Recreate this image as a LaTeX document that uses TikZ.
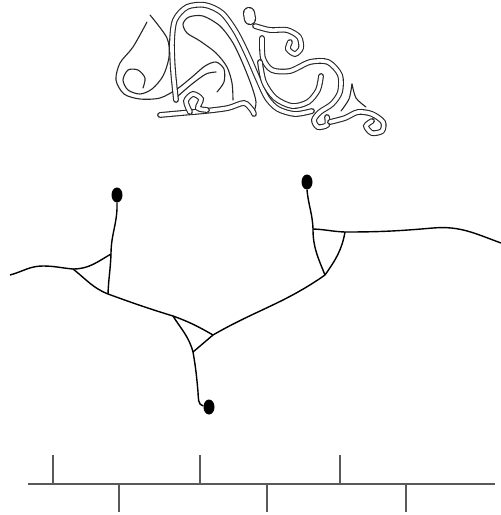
\documentclass[tikz,border=0pt]{standalone}
\usepackage{tikz}
\usetikzlibrary{shapes.geometric}
\tikzset{
    branch-line/.style = {draw=black, line width=1.4pt},
    end-dot/.style = {ellipse, fill=black, inner sep=0pt, minimum width=11pt, minimum height=15pt},
    ribbon/.style = {draw=black!85, line width=1.1pt, double=white, double distance=3.6pt, line cap=round},
    ribbon-edge/.style = {draw=black!85, line width=1.1pt, line cap=round},
    scale-line/.style = {draw=black!65, line width=1.2pt},
}

\begin{document}
\begin{tikzpicture}[x=1pt, y=-1pt]
\useasboundingbox (0,0) rectangle (501,515);

% ornament, left leaf
\draw[ribbon-edge] plot[smooth] coordinates {(147,22) (133,47) (120,63) (116,80) (124,94) (140,99) (160,98) (177,89) (192,77) (205,66) (216,62) (224,69) (224,82) (217,92)};
\draw[ribbon-edge] plot[smooth] coordinates {(143,88) (145,78) (138,70) (128,70) (123,80) (128,90) (140,94) (152,89) (163,76) (169,57) (167,38) (150,15)};
\draw[ribbon-edge] plot[smooth] coordinates {(178,96) (192,84) (206,74) (216,72)};
% big loop and inner drop
\draw[ribbon] plot[smooth] coordinates {(176,100) (173,70) (172,42) (175,20) (187,7) (205,5) (222,13) (236,32) (248,56) (258,79) (267,98) (278,109) (295,114) (312,111)};
\draw[ribbon-edge] plot[smooth] coordinates {(233,100) (232,83) (227,67) (216,53) (200,41) (187,33) (183,24) (189,17) (203,16) (220,26) (233,43) (243,64) (252,87) (256,102) (254,112)};
% bottom band with small curl
\draw[ribbon] plot[smooth] coordinates {(160,115) (182,113) (205,111) (228,108) (244,103) (252,110) (254,114)};
\draw[ribbon] plot[smooth] coordinates {(190,112) (186,101) (193,94) (201,99) (198,108) (207,110)};
% right part
\draw[ribbon] plot[smooth] coordinates {(255,26) (270,30) (287,30) (299,37) (301,48) (295,54) (288,49) (290,42)};
\draw[ribbon, double distance=10pt] (249,13) -- (250,19);
\draw[ribbon] plot[smooth] coordinates {(262,38) (263,58) (272,70) (290,71) (310,62) (328,62) (340,75) (340,92) (332,104) (320,112) (314,120) (318,127) (327,125) (327,117)};
\draw[ribbon] plot[smooth] coordinates {(260,62) (264,82) (275,98) (292,106) (308,102) (318,90) (321,76)};
\draw[ribbon-edge] plot[smooth] coordinates {(352,84) (349,99) (341,111)};
\draw[ribbon-edge] plot[smooth] coordinates {(352,84) (356,98) (366,107)};
\draw[ribbon] plot[smooth] coordinates {(330,122) (345,118) (358,112) (372,114) (383,122) (382,131) (372,133) (366,126) (372,121)};

% branches
\node[end-dot] (left-end) at (117,195) {};
\node[end-dot] (right-end) at (307,182) {};
\node[end-dot] (low-end) at (209,407) {};

\coordinate (far-left) at (10,275);
\coordinate (far-right) at (501,243);
\coordinate (a1) at (111,254);
\coordinate (a2) at (108,294);
\coordinate (a3) at (73,269);
\coordinate (b1) at (173,316);
\coordinate (b2) at (213,335);
\coordinate (b3) at (193,352);
\coordinate (c1) at (313,229);
\coordinate (c2) at (345,232);
\coordinate (c3) at (325,275);

\draw[branch-line] (left-end.south) to[out=-88,in=90] (a1) to[out=-92,in=88] (a2);
\draw[branch-line] (far-left) to[out=15,in=180] (43,266) to[out=0,in=175] (a3);
\draw[branch-line] (a3) to[out=0,in=-150] (a1);
\draw[branch-line] (a3) to[out=-38,in=158] (a2);
\draw[branch-line] (a2) to[out=-20,in=163] (b1);
\draw[branch-line] (b1) to[out=-20,in=150] (b2);
\draw[branch-line] (b1) to[out=-58,in=105] (b3);
\draw[branch-line] (b3) -- (b2) to[out=30,in=-145] (c3);
\draw[branch-line] (b3) to[out=-80,in=95] (198,392) to[out=-85,in=170] (low-end);
\draw[branch-line] (right-end.south) to[out=-85,in=92] (c1);
\draw[branch-line] (c1) to[out=-90,in=112] (c3);
\draw[branch-line] (c1) to[out=-2,in=178] (c2);
\draw[branch-line] (c2) to[out=-100,in=55] (c3);
\draw[branch-line] (c2) to[out=0,in=185] (433,228) to[out=5,in=160] (far-right);

% scale
\coordinate (s0) at (28,484);
\coordinate (s1) at (495,484);
\draw[scale-line] (s0) -- (s1);
\foreach \x in {53,200,340}
    \draw[scale-line] (\x,484) -- (\x,455);
\foreach \x in {119,267,406}
    \draw[scale-line] (\x,484) -- (\x,512);
\end{tikzpicture}
\end{document}
